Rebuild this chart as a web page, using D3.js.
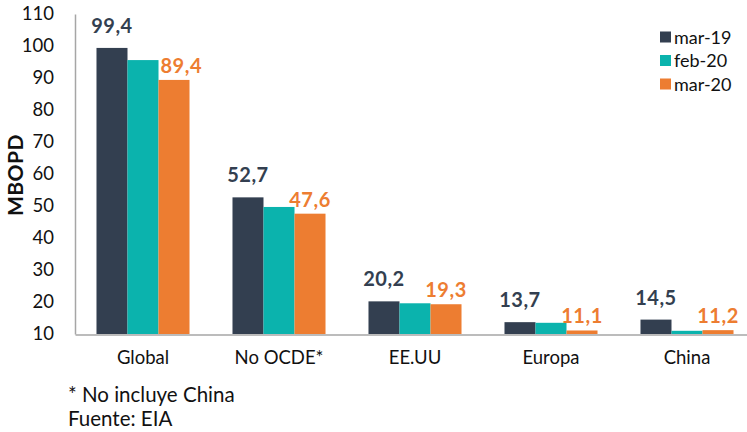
<!DOCTYPE html>
<html><head><meta charset="utf-8">
<script src="https://cdn.jsdelivr.net/npm/d3@7"></script>
<style>body{margin:0;background:#fff}svg{display:block}text{font-family:Lato,"Open Sans",sans-serif}</style>
</head><body><svg id="c" width="747" height="432"></svg>
<script>
const categories = ["Global","No OCDE*","EE.UU","Europa","China"];
const seriesNames = ["mar-19","feb-20","mar-20"];
const mar19 = [99.4, 52.7, 20.2, 13.7, 14.5];
const feb20 = [95.6, 49.7, 19.6, 13.5, 11.0];
const mar20 = [89.4, 47.6, 19.3, 11.1, 11.2];
const colors = ["#333f50","#0bb3ad","#ed7d31"];
const yTicks = [10,20,30,40,50,60,70,80,90,100,110];
const labeled = [true,false,true];
const notes = ["* No incluye China","Fuente: EIA"];

const series = [mar19, feb20, mar20];
const svg = d3.select("#c");
const y = d3.scaleLinear().domain([10,110]).range([334,14]);
const x = d3.scaleBand().domain(categories).range([75,755]).paddingInner(0.316).paddingOuter(0.158);
const xs = d3.scaleBand().domain(seriesNames).range([0,x.bandwidth()]);

// bars
categories.forEach((c,i)=>{
  series.forEach((s,j)=>{
    svg.append("rect").attr("x",x(c)+xs(seriesNames[j])).attr("width",xs.bandwidth())
      .attr("y",y(s[i])).attr("height",y(10)-y(s[i])).attr("fill",colors[j]);
  });
});
// labels
categories.forEach((c,i)=>{
  series.forEach((s,j)=>{
    if(!labeled[j]) return;
    const bx = x(c)+xs(seriesNames[j]);
    const by = y(s[i])-(j===0?15:7);
    // shift right if label would overlap the previous (taller) bar
    const overlap = j>0 && by > y(series[j-1][i]) + 4;
    svg.append("text").attr("x", overlap ? bx+2 : bx+xs.bandwidth()/2)
      .attr("y",by).attr("text-anchor", overlap ? "start" : "middle")
      .attr("font-size",20).attr("font-weight","bold").attr("fill",colors[j])
      .attr("letter-spacing",0.5)
      .text(d3.format(".1f")(s[i]).replace(".",","));
  });
});
// axes
const ya = d3.axisLeft(y).tickValues(yTicks).tickSize(0).tickPadding(21).tickFormat(d3.format("d"));
const gy = svg.append("g").attr("transform","translate(75,0)").call(ya);
gy.select(".domain").attr("stroke","#a6a6a6").attr("stroke-width",1.5);
gy.selectAll("text").attr("font-size",18.5).attr("fill","#111").style("font-family","Lato");
const xa = d3.axisBottom(x).tickSize(0).tickPadding(16);
const gx = svg.append("g").attr("transform","translate(0,334.5)").call(xa);
gx.select(".domain").attr("stroke","#a6a6a6").attr("stroke-width",1.5);
gx.selectAll("text").attr("font-size",18.5).attr("fill","#111").style("font-family","Lato");

svg.append("text").attr("transform","translate(23,175) rotate(-90)").attr("text-anchor","middle")
  .attr("font-size",21).attr("font-weight","bold").attr("fill","#111").attr("letter-spacing",0.5).text("MBOPD");

// legend
seriesNames.forEach((n,j)=>{
  const ly = 37 + j*23.5;
  svg.append("rect").attr("x",660).attr("y",ly-5.5).attr("width",11).attr("height",11).attr("fill",colors[j]);
  svg.append("text").attr("x",674).attr("y",ly+6.5).attr("font-size",18).attr("fill","#111").text(n);
});
// notes
notes.forEach((t,k)=>{
  svg.append("text").attr("x",68).attr("y",402+k*23.5).attr("font-size",20.5).attr("fill","#111").text(t);
});
</script></body></html>
